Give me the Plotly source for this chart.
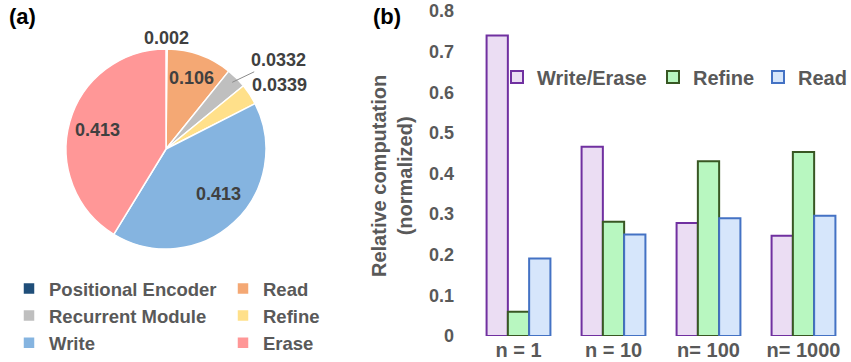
import math
import plotly.graph_objects as go

W, H = 851, 362
ML = 30

# ---------------- data ----------------
pie_labels = ["Positional Encoder", "Read", "Recurrent Module", "Refine", "Write", "Erase"]
pie_values = [0.002, 0.106, 0.0332, 0.0339, 0.413, 0.413]
pie_colors = ["#1F4E79", "#F4A874", "#BFBFBF", "#FFE08A", "#85B4E0", "#FF9797"]

categories = ["n = 1", "n = 10", "n= 100", "n= 1000"]
write_erase = [0.74, 0.466, 0.278, 0.247]
refine = [0.06, 0.281, 0.43, 0.453]
read = [0.191, 0.25, 0.29, 0.296]

y_tickvals = [0, 0.1, 0.2, 0.3, 0.4, 0.5, 0.6, 0.7, 0.8]
y_ticktext = ["0", "0.1", "0.2", "0.3", "0.4", "0.5", "0.6", "0.7", "0.8"]

# label placement style per slice: (radius factor, xanchor, xshift, yshift, leader offset)
label_style = [
    (1.11, "center", 0, 0, None),
    (0.75, "center", 0, 0, None),
    (0.94, "center", 0, 0, (46, -22)),
    (1.00, "left", 0, 9, None),
    (0.70, "center", 5, 6, None),
    (0.71, "center", 0, 0, None),
]


def fx(px):
    return (px - ML) / (W - ML)


def fy(py):
    return 1 - py / H


FONT = "Liberation Sans, Arial, sans-serif"
GRAY = "#595959"
LABEL = "#404040"

# pie geometry (pixels)
PCX, PCY, PR = 166, 149, 100

fig = go.Figure()

fig.add_trace(go.Pie(
    labels=pie_labels,
    values=pie_values,
    textinfo="none",
    marker=dict(colors=pie_colors, line=dict(color="white", width=1.5)),
    sort=False,
    direction="clockwise",
    rotation=0,
    domain=dict(x=[fx(PCX - PR), fx(PCX + PR)], y=[fy(PCY + PR), fy(PCY - PR)]),
    legend="legend",
    hoverinfo="label+value",
))

bar_specs = [
    ("Write/Erase", write_erase, "#EBDDF3", "#7030A0", 111),
    ("Refine", refine, "#B8F7C0", "#385723", 60),
    ("Read", read, "#D6E6FB", "#4472C4", None),
]
for name, vals, fill, line, lw in bar_specs:
    kw = {}
    if lw is not None:
        kw["legendwidth"] = lw
    fig.add_trace(go.Bar(
        x=categories, y=vals, name=name,
        marker=dict(color=fill, line=dict(color=line, width=2)),
        legend="legend2",
        **kw,
    ))

annotations = [
    dict(text="(a)", x=fx(22), y=fy(16), xref="paper", yref="paper",
         xanchor="center", yanchor="middle", showarrow=False,
         font=dict(family=FONT, size=22, color="black", weight="bold")),
    dict(text="(b)", x=fx(387), y=fy(16), xref="paper", yref="paper",
         xanchor="center", yanchor="middle", showarrow=False,
         font=dict(family=FONT, size=22, color="black", weight="bold")),
    dict(text="Relative computation<br>(normalized)", x=fx(392), y=fy(176),
         xref="paper", yref="paper", xanchor="center", yanchor="middle",
         showarrow=False, textangle=-90,
         font=dict(family=FONT, size=20, color=GRAY, weight="bold")),
]

# pie value labels, positioned from the slice mid-angles
total = sum(pie_values)
cum = 0.0
for v, (k, xa, xs, ys, leader) in zip(pie_values, label_style):
    theta = 2 * math.pi * (cum + v / 2) / total
    cum += v
    px = PCX + k * PR * math.sin(theta)
    py = PCY - k * PR * math.cos(theta)
    a = dict(text=f"{v:g}", x=fx(px), y=fy(py), xref="paper", yref="paper",
             xanchor=xa, yanchor="middle", xshift=xs, yshift=ys,
             font=dict(family=FONT, size=18, color=LABEL, weight="bold"))
    if leader is None:
        a["showarrow"] = False
    else:
        a.update(showarrow=True, arrowhead=0, arrowwidth=1, arrowcolor="#8C8C8C",
                 ax=leader[0], ay=leader[1], standoff=0)
    annotations.append(a)

fig.update_layout(
    width=W, height=H,
    margin=dict(l=ML, r=0, t=0, b=0, autoexpand=False),
    paper_bgcolor="white", plot_bgcolor="white",
    font=dict(family=FONT, color=GRAY),
    barmode="group", bargap=0.328, bargroupgap=0,
    xaxis=dict(
        domain=[fx(471), 1.0],
        showgrid=False, showline=False, zeroline=False, ticks="",
        tickfont=dict(family=FONT, size=20, color=GRAY, weight="bold"),
        fixedrange=True,
    ),
    yaxis=dict(
        domain=[fy(336), fy(11)],
        range=[0, 0.8],
        tickvals=y_tickvals, ticktext=y_ticktext,
        showgrid=False, showline=False, zeroline=False, ticks="",
        ticklabelstandoff=16,
        tickfont=dict(family=FONT, size=18, color=GRAY, weight="bold"),
        fixedrange=True,
    ),
    legend=dict(
        orientation="h",
        entrywidth=169,
        x=fx(9), xanchor="left",
        y=fy(270), yanchor="top",
        font=dict(family=FONT, size=18.5, color=GRAY, weight="bold"),
        bgcolor="rgba(0,0,0,0)",
    ),
    legend2=dict(
        orientation="h",
        x=fx(497), xanchor="left",
        y=fy(57.5), yanchor="top",
        font=dict(family=FONT, size=20, color=GRAY, weight="bold"),
        bgcolor="rgba(0,0,0,0)",
    ),
    annotations=annotations,
)

fig.write_html("out.html")
